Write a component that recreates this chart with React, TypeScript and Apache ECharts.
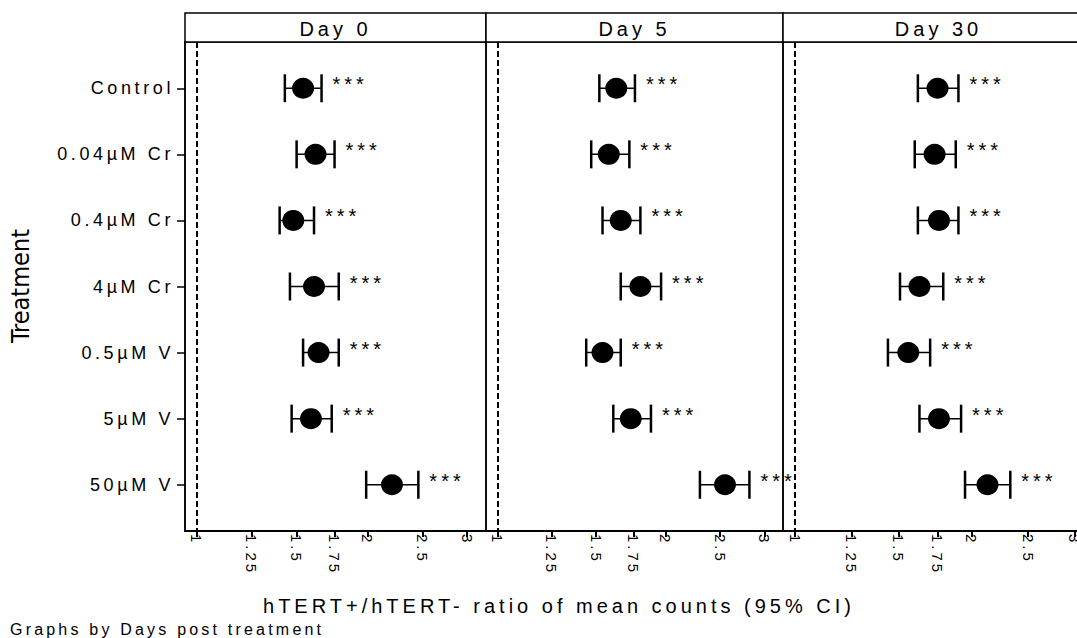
import React, { useEffect, useRef } from 'react';
import * as echarts from 'echarts';

// ---------- data ----------
const categories = ['Control', '0.04µM Cr', '0.4µM Cr', '4µM Cr', '0.5µM V', '5µM V', '50µM V'];
const panels = ['Day 0', 'Day 5', 'Day 30'];
const tickValues = [1, 1.25, 1.5, 1.75, 2, 2.5, 3];
const tickLabels = ['1', '1.25', '1.5', '1.75', '2', '2.5', '3'];
const starText = '***';

const day0Mean = [1.54, 1.62, 1.48, 1.61, 1.64, 1.59, 2.21];
const day0Low = [1.43, 1.50, 1.40, 1.46, 1.54, 1.47, 1.99];
const day0High = [1.66, 1.75, 1.61, 1.78, 1.78, 1.73, 2.46];

const day5Mean = [1.63, 1.58, 1.66, 1.80, 1.54, 1.73, 2.55];
const day5Low = [1.52, 1.47, 1.54, 1.66, 1.44, 1.61, 2.30];
const day5High = [1.76, 1.72, 1.80, 1.96, 1.66, 1.88, 2.82];

const day30Mean = [1.75, 1.73, 1.76, 1.63, 1.56, 1.76, 2.13];
const day30Low = [1.62, 1.60, 1.62, 1.51, 1.44, 1.63, 1.95];
const day30High = [1.90, 1.88, 1.90, 1.79, 1.70, 1.92, 2.33];

const means = [day0Mean, day5Mean, day30Mean];
const lows = [day0Low, day5Low, day30Low];
const highs = [day0High, day5High, day30High];

// ---------- layout ----------
const PANEL_LEFT = [185, 486, 783];
const PANEL_WIDTH = [301, 297, 311];
const HEADER_TOP = 13;
const GRID_TOP = 42;
const GRID_HEIGHT = 489;
const X_MIN = -0.048; // ln scale
const X_MAX = 1.175;
const FONT = "'Liberation Sans', Arial, Helvetica, sans-serif";
const NARROW = "'Liberation Sans Narrow', 'Arial Narrow', 'DejaVu Sans Condensed', sans-serif";

const tickLns = tickValues.map((v) => Math.log(v));
const rowPositions = categories.map((_, i) => i + 1);

function tickLabelFor(v: number): string {
  const idx = tickLns.findIndex((t) => Math.abs(t - v) < 1e-6);
  return idx >= 0 ? tickLabels[idx] : '';
}

function buildOption(): any {
  const grid = panels.map((_, i) => ({
    left: PANEL_LEFT[i],
    top: GRID_TOP,
    width: PANEL_WIDTH[i],
    height: GRID_HEIGHT,
    show: true,
    borderColor: '#000',
    borderWidth: 1.5,
    backgroundColor: 'transparent',
    containLabel: false,
    outerBoundsMode: 'none',
  }));

  const xAxis = panels.map((_, i) => ({
    type: 'value',
    gridIndex: i,
    min: X_MIN,
    max: X_MAX,
    axisLine: { show: true, onZero: false, lineStyle: { color: '#000', width: 2 } },
    axisTick: { show: true, customValues: tickLns, length: 6, lineStyle: { color: '#000', width: 2 } },
    axisLabel: {
      customValues: tickLns,
      rotate: -90,
      margin: 3,
      color: '#000',
      fontSize: 15,
      fontFamily: FONT,
      hideOverlap: false,
      formatter: (v: number) => tickLabelFor(v),
    },
    splitLine: { show: false },
  }));

  const yAxis = panels.map((_, i) => ({
    type: 'value',
    gridIndex: i,
    inverse: true,
    min: 0.3,
    max: 7.7,
    show: i === 0,
    axisLine: { show: true, onZero: false, lineStyle: { color: '#000', width: 1.5 } },
    axisTick: { show: true, customValues: rowPositions, length: 8, lineStyle: { color: '#000', width: 1.5 } },
    axisLabel: {
      customValues: rowPositions,
      color: '#000',
      fontSize: 18,
      fontFamily: FONT,
      margin: 11,
      hideOverlap: false,
      formatter: (v: number) => categories[Math.round(v) - 1] ?? '',
    },
    splitLine: { show: false },
  }));

  const series: any[] = [];
  panels.forEach((_, i) => {
    series.push({
      type: 'custom',
      xAxisIndex: i,
      yAxisIndex: i,
      silent: true,
      clip: false,
      z: 2,
      encode: { x: [0, 1], y: 2 },
      data: categories.map((_c, r) => [Math.log(lows[i][r]), Math.log(highs[i][r]), r + 1]),
      renderItem: (params: any, api: any) => {
        const lo = api.coord([api.value(0), api.value(2)]);
        const hi = api.coord([api.value(1), api.value(2)]);
        const h = 14;
        return {
          type: 'group',
          children: [
            { type: 'line', shape: { x1: lo[0], y1: lo[1], x2: hi[0], y2: hi[1] }, style: { stroke: '#000', lineWidth: 1.5 } },
            { type: 'line', shape: { x1: lo[0], y1: lo[1] - h, x2: lo[0], y2: lo[1] + h }, style: { stroke: '#000', lineWidth: 2.5 } },
            { type: 'line', shape: { x1: hi[0], y1: hi[1] - h, x2: hi[0], y2: hi[1] + h }, style: { stroke: '#000', lineWidth: 2.5 } },
            {
              type: 'text',
              x: hi[0] + 11,
              y: hi[1] - 4,
              style: { text: starText, fill: '#000', fontSize: 20, fontFamily: FONT, align: 'left', verticalAlign: 'middle' },
            },
          ],
        };
      },
    });
    series.push({
      type: 'scatter',
      xAxisIndex: i,
      yAxisIndex: i,
      silent: true,
      z: 3,
      symbol: 'circle',
      symbolSize: [22, 21],
      itemStyle: { color: '#000', opacity: 1 },
      data: means[i].map((m, r) => [Math.log(m), r + 1]),
      markLine: {
        silent: true,
        symbol: ['none', 'none'],
        label: { show: false },
        lineStyle: { color: '#000', type: [6, 3], width: 2 },
        data: [{ xAxis: 0 }],
      },
    });
  });

  const graphic: any[] = [];
  panels.forEach((p, i) => {
    graphic.push({
      type: 'rect',
      shape: { x: PANEL_LEFT[i], y: HEADER_TOP, width: PANEL_WIDTH[i], height: GRID_TOP - HEADER_TOP },
      style: { fill: '#fff', stroke: '#000', lineWidth: 1.5 },
      silent: true,
    });
    graphic.push({
      type: 'text',
      x: PANEL_LEFT[i] + PANEL_WIDTH[i] / 2,
      y: (HEADER_TOP + GRID_TOP) / 2 + 1,
      style: { text: p, fill: '#000', fontSize: 20, fontFamily: FONT, align: 'center', verticalAlign: 'middle' },
      silent: true,
    });
  });
  graphic.push({
    type: 'text',
    x: 20,
    y: 286,
    rotation: Math.PI / 2,
    style: { text: 'Treatment', fill: '#000', fontSize: 25, fontFamily: NARROW, align: 'center', verticalAlign: 'middle' },
    silent: true,
  });
  graphic.push({
    type: 'text',
    x: 559,
    y: 606,
    style: {
      text: 'hTERT+/hTERT- ratio of mean counts (95% CI)',
      fill: '#000',
      fontSize: 20,
      fontFamily: FONT,
      align: 'center',
      verticalAlign: 'middle',
    },
    silent: true,
  });
  graphic.push({
    type: 'text',
    x: 10,
    y: 629,
    style: { text: 'Graphs by Days post treatment', fill: '#000', fontSize: 16, fontFamily: FONT, align: 'left', verticalAlign: 'middle' },
    silent: true,
  });

  return {
    animation: false,
    backgroundColor: '#fff',
    grid,
    xAxis,
    yAxis,
    series,
    graphic,
  };
}

export default function App() {
  const ref = useRef<HTMLDivElement>(null);
  useEffect(() => {
    document.body.style.margin = '0';
    const chart = echarts.init(ref.current!, null, { renderer: 'svg' });
    chart.setOption(buildOption());
    return () => chart.dispose();
  }, []);
  return (
    <>
      <style>{`.chart-root text { letter-spacing: 0.2em; } .chart-root text[style*="Narrow"] { letter-spacing: 0; }`}</style>
      <div ref={ref} className="chart-root" style={{ width: 1077, height: 638, background: '#fff' }} />
    </>
  );
}
